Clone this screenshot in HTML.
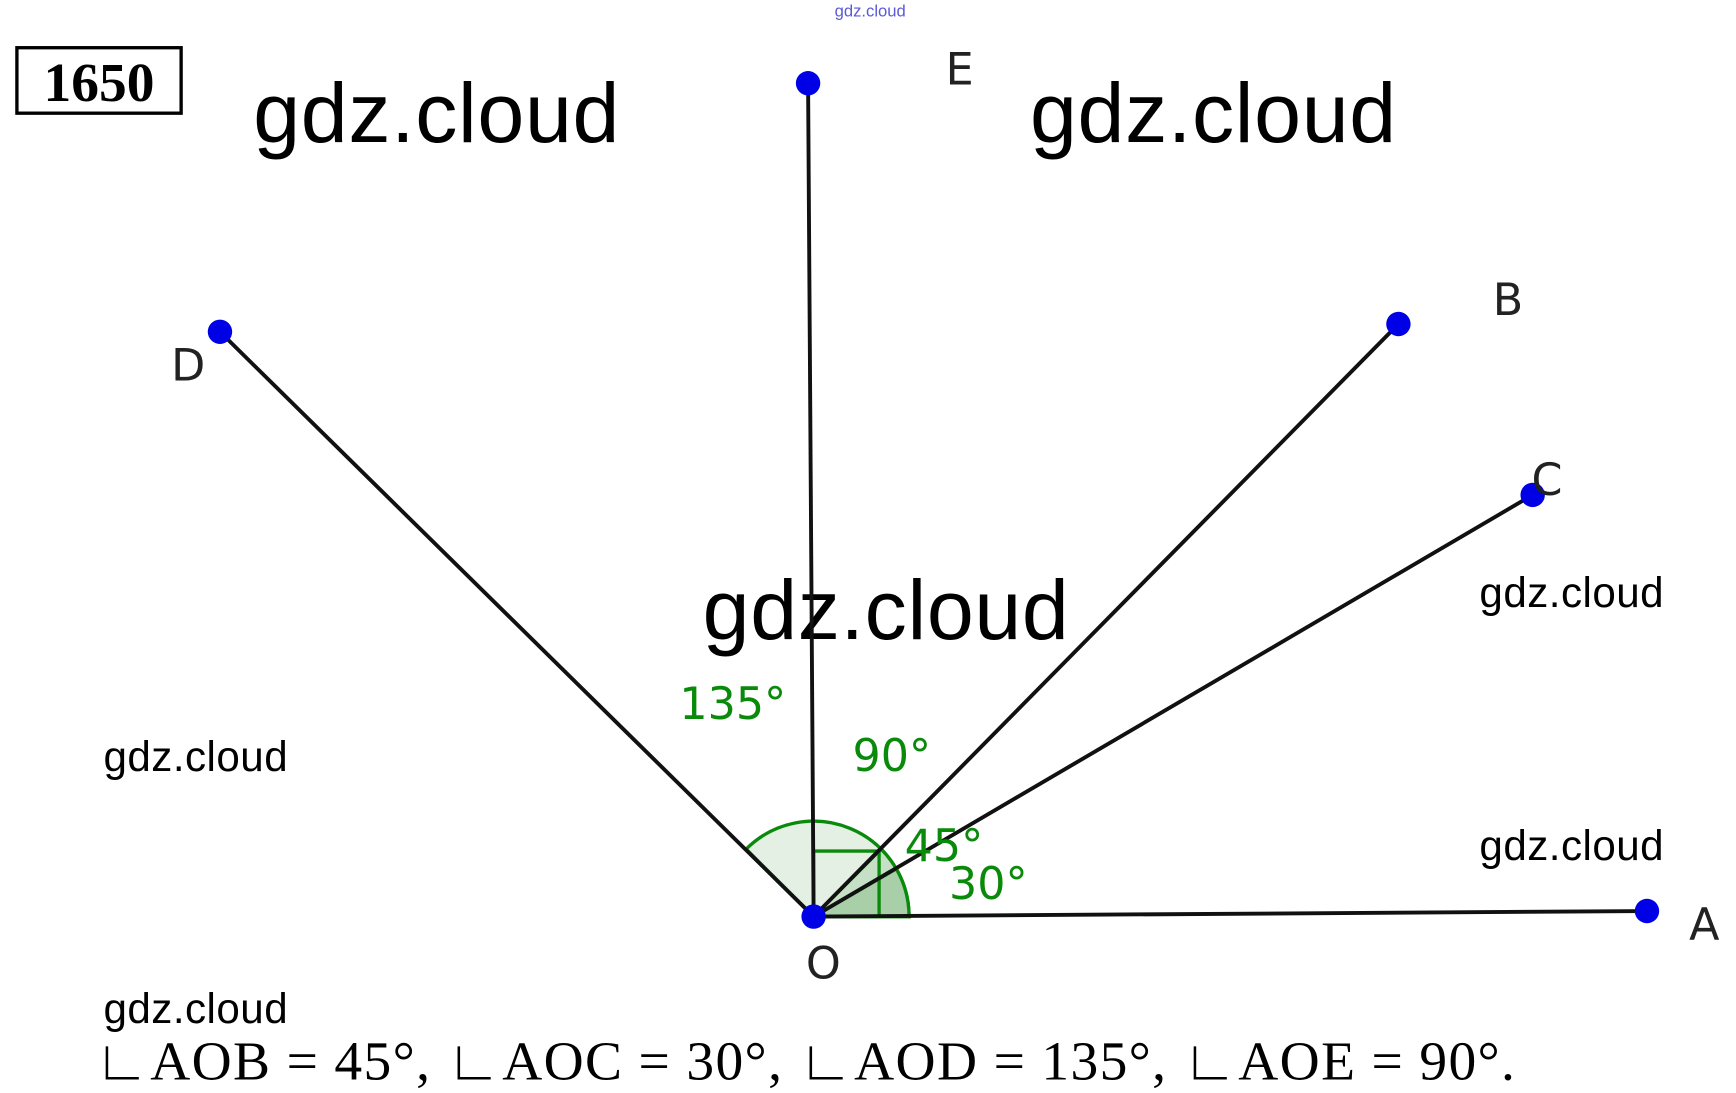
<!DOCTYPE html>
<html><head><meta charset="utf-8"><style>
html,body{margin:0;padding:0;background:#fff;}
svg{display:block;}
</style></head><body>
<svg width="1736" height="1093" viewBox="0 0 1564 985" xmlns="http://www.w3.org/2000/svg">
<rect width="1564" height="985" fill="#fff"/>
<text x="784" y="15" font-family="Liberation Sans, sans-serif" font-size="15" fill="#5a5ad8" text-anchor="middle">gdz.cloud</text>
<rect x="15" y="43" width="148" height="59" fill="none" stroke="#000" stroke-width="3"/>
<text x="89" y="91" font-family="Liberation Serif, serif" font-weight="bold" font-size="50" text-anchor="middle">1650</text>
<g font-family="Liberation Sans, sans-serif" font-size="76" fill="#000">
<text x="228" y="128" textLength="330">gdz.cloud</text>
<text x="928" y="128" textLength="330">gdz.cloud</text>
<text x="633" y="576" textLength="330">gdz.cloud</text>
</g>
<g font-family="Liberation Sans, sans-serif" font-size="38" fill="#000">
<text x="1333" y="547" textLength="166">gdz.cloud</text>
<text x="93" y="695" textLength="166">gdz.cloud</text>
<text x="1333" y="775" textLength="166">gdz.cloud</text>
<text x="93" y="922" textLength="166">gdz.cloud</text>
</g>
<path d="M733,826 L672.2,765.2 A86,86 0 0 1 819,826 Z" fill="#e3f0e3" stroke="#0a8a0a" stroke-width="3"/>
<path d="M733,826 L793.8,765.2 A86,86 0 0 1 819,826 Z" fill="#c6e0c6" stroke="#0a8a0a" stroke-width="3"/>
<path d="M733,826 L807.5,783 A86,86 0 0 1 819,826 Z" fill="#a8cfa8" stroke="#0a8a0a" stroke-width="3"/>
<path d="M733,826 L733,767 L792,767 L792,826" fill="none" stroke="#0a8a0a" stroke-width="3"/>
<g stroke="#111" stroke-width="3.5" fill="none">
<line x1="733" y1="826" x2="1484" y2="821"/>
<line x1="733" y1="826" x2="1381" y2="446"/>
<line x1="733" y1="826" x2="1260" y2="292"/>
<line x1="733" y1="826" x2="728" y2="75"/>
<line x1="733" y1="826" x2="198" y2="299"/>
</g>
<g fill="#0000e6">
<circle cx="733" cy="826" r="11"/>
<circle cx="1484" cy="821" r="11"/>
<circle cx="1381" cy="446" r="11"/>
<circle cx="1260" cy="292" r="11"/>
<circle cx="728" cy="75" r="11"/>
<circle cx="198" cy="299" r="11"/>
</g>
<g font-family="DejaVu Sans, sans-serif" font-size="40" fill="#222">
<text x="852" y="76">E</text>
<text x="1345" y="284">B</text>
<text x="1380" y="446">C</text>
<text x="154" y="343">D</text>
<text x="1522" y="847">A</text>
<text x="726" y="882">O</text>
</g>
<g font-family="DejaVu Sans, sans-serif" font-size="40" fill="#0a8a0a">
<text x="612" y="648">135°</text>
<text x="768" y="695">90°</text>
<text x="815" y="776">45°</text>
<text x="855" y="810">30°</text>
</g>
<text x="85" y="973" font-family="Liberation Serif, serif" font-size="50" fill="#000" textLength="1280">∟AOB = 45°, ∟AOC = 30°, ∟AOD = 135°, ∟AOE = 90°.</text>
</svg>
</body></html>
